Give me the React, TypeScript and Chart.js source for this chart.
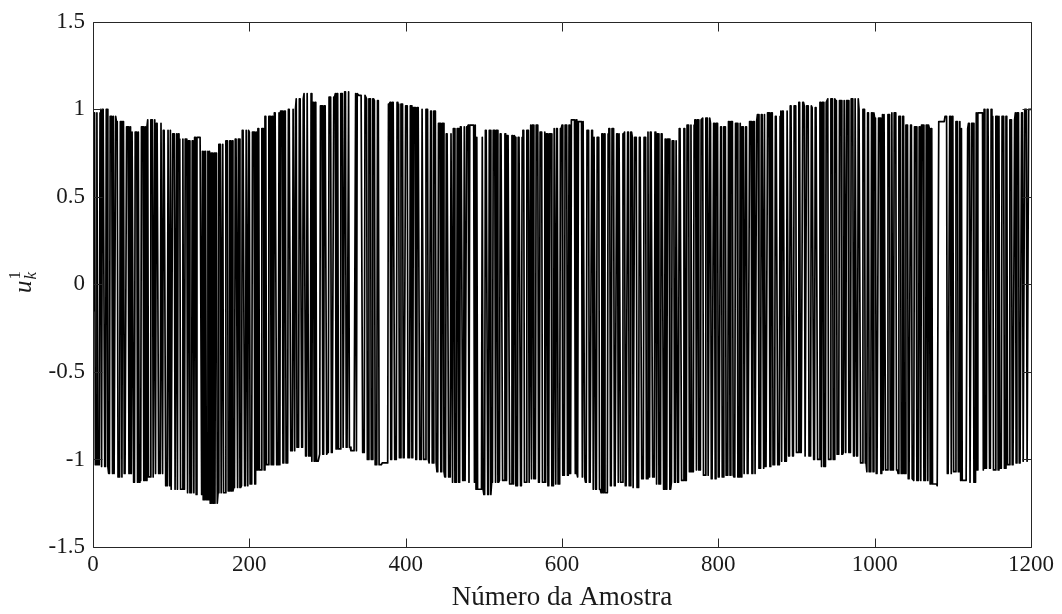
import React, { useEffect, useRef } from 'react';
import { Chart, registerables } from 'chart.js';

Chart.register(...registerables);

// ---- data ----
const xTicks = [0, 200, 400, 600, 800, 1000, 1200];
const yTicks = [-1.5, -1, -0.5, 0, 0.5, 1, 1.5];
const xTitle = 'Número da Amostra';

const firstValue = -0.15;

// level reached when the input is "high", one value per block of 10 samples
const upperLevel = [
  0.98, 1.0, 0.96, 0.93, 0.9, 0.87, 0.9, 0.94, 0.92, 0.88,
  0.86, 0.83, 0.82, 0.84, 0.76, 0.75, 0.8, 0.82, 0.83, 0.88,
  0.87, 0.89, 0.96, 0.98, 0.99, 1.0, 1.06, 1.09, 1.04, 1.02,
  1.07, 1.09, 1.1, 1.09, 1.08, 1.06, 1.05, 1.03, 1.04, 1.03,
  1.02, 1.01, 1.0, 0.99, 0.92, 0.86, 0.89, 0.9, 0.91, 0.84,
  0.88, 0.88, 0.86, 0.85, 0.84, 0.88, 0.91, 0.87, 0.86, 0.89,
  0.91, 0.94, 0.93, 0.88, 0.84, 0.86, 0.89, 0.86, 0.87, 0.84,
  0.84, 0.87, 0.86, 0.83, 0.82, 0.89, 0.91, 0.94, 0.95, 0.92,
  0.9, 0.93, 0.92, 0.9, 0.93, 0.97, 0.98, 0.96, 0.99, 1.02,
  1.04, 1.02, 1.01, 1.04, 1.06, 1.05, 1.05, 1.06, 1.0, 0.98,
  0.95, 0.97, 0.98, 0.96, 0.91, 0.9, 0.91, 0.89, 0.93, 0.96,
  0.93, 0.89, 0.92, 0.98, 1.0, 0.96, 0.96, 0.94, 0.98, 1.0,
  1.0,
];

// level reached when the input is "low", one value per block of 10 samples
const lowerLevel = [
  -1.03, -1.04, -1.08, -1.1, -1.08, -1.13, -1.12, -1.1, -1.08, -1.15,
  -1.17, -1.17, -1.19, -1.2, -1.23, -1.25, -1.19, -1.18, -1.16, -1.15,
  -1.14, -1.06, -1.03, -1.03, -1.02, -0.95, -0.93, -0.98, -1.01, -0.97,
  -0.96, -0.94, -0.93, -0.95, -0.96, -1.0, -1.03, -1.02, -1.0, -0.99,
  -0.99, -1.0, -1.0, -1.02, -1.07, -1.1, -1.13, -1.12, -1.13, -1.17,
  -1.2, -1.13, -1.12, -1.14, -1.15, -1.13, -1.11, -1.13, -1.15, -1.14,
  -1.09, -1.08, -1.1, -1.13, -1.17, -1.19, -1.15, -1.13, -1.15, -1.16,
  -1.11, -1.1, -1.14, -1.17, -1.13, -1.12, -1.07, -1.06, -1.09, -1.11,
  -1.1, -1.09, -1.1, -1.08, -1.08, -1.05, -1.04, -1.03, -1.01, -0.98,
  -0.96, -0.98, -1.0, -1.04, -1.0, -0.97, -0.96, -0.98, -1.02, -1.07,
  -1.08, -1.06, -1.06, -1.08, -1.11, -1.12, -1.12, -1.14, -1.15, -1.08,
  -1.07, -1.12, -1.13, -1.06, -1.05, -1.06, -1.05, -1.03, -1.02, -1.01,
  -1.01,
];

// high (1) / low (0) state of each sample, 50 samples per row
const switchPattern = [
  '1110010001 1011100110 0011101001 1100011011 0001110010',
  '1100111010 0011100101 1000111001 0111000110 1110001101',
  '0011100101 1100010011 1011000110 1101111110 1010100101',
  '0101010110 0111001000 1110011010 0011101100 0111001101',
  '1000111001 0110001110 1100011101 0011100010 1110011000',
  '1110001101 1000111001 1100110001 0110110000 0111001110',
  '0011100011 1011000111 0011000100 0000001011 1111100011',
  '1001110011 1000110000 0000000011 1001110001 1100111000',
  '1110001100 1110011100 0110001110 0011001110 0011100110',
  '0011100011 0110001100 1110010011 1011111101 0100000010',
  '0011100110 0011101100 0111000110 1110001101 1000111001',
  '1100011100 1011000111 0011100010 1100111000 1101100011',
  '1000111001 0011111010 0111110110 0011100011 0110011100',
  '0110100001 1100111000 1101100011 1000110011 1001110001',
  '1100011100 1001110001 1011000111 0010011100 0111001100',
  '1110001100 1110010001 1101100011 1000111001 1000110111',
  '0001100111 0001101110 0011100010 1110011000 1110011001',
  '1100011101 0001110011 0001110001 1011100011 0011100111',
  '0001100011 1001110001 1100111000 1101100011 1000111001',
  '1100011100 0110111000 1110011001 1100011100 0110001101',
  '1100011100 1011000111 0010011100 0111001100 1110001100',
  '0111000110 1110001101 1011000000 0011111111 1110001101',
  '1000111001 0100000001 1100111000 1011111110 1000111001',
  '1100011101 0001110011 0001110001 1011100011 0011100111',
  '1',
];

const FONT = '"Liberation Serif", "DejaVu Serif", serif';
const TEXT = '#1a1a1a';
const AXIS = '#262626';

function buildPoints() {
  const bits = switchPattern.join('').replace(/\s/g, '');
  const pts: { x: number; y: number }[] = [];
  for (let k = 0; k < bits.length; k++) {
    const b = Math.floor(k / 10);
    const v = bits[k] === '1' ? upperLevel[b] : lowerLevel[b];
    pts.push({ x: k, y: k === 0 ? firstValue : v });
  }
  return pts;
}

const framePlugin = {
  id: 'matlabFrame',
  afterDatasetsDraw(chart: any) {
    const { ctx, chartArea: a, scales } = chart;
    const x = scales.x;
    const y = scales.y;
    ctx.save();
    ctx.strokeStyle = AXIS;
    ctx.lineWidth = 1;
    const L = Math.round(a.left) + 0.5;
    const R = Math.round(a.right) + 0.5;
    const T = Math.round(a.top) + 0.5;
    const B = Math.round(a.bottom) + 0.5;
    const tl = 9;
    ctx.beginPath();
    ctx.rect(L, T, R - L, B - T);
    for (const v of xTicks) {
      const px = Math.round(x.getPixelForValue(v)) + 0.5;
      ctx.moveTo(px, B);
      ctx.lineTo(px, B - tl);
      ctx.moveTo(px, T);
      ctx.lineTo(px, T + tl);
    }
    for (const v of yTicks) {
      const py = Math.round(y.getPixelForValue(v)) + 0.5;
      ctx.moveTo(L, py);
      ctx.lineTo(L + tl, py);
      ctx.moveTo(R, py);
      ctx.lineTo(R - tl, py);
    }
    ctx.stroke();

    // y-axis label u_k^1 (rotated)
    ctx.translate(25, y.getPixelForValue(0) - 2);
    ctx.rotate(-Math.PI / 2);
    ctx.fillStyle = TEXT;
    ctx.textBaseline = 'alphabetic';
    ctx.textAlign = 'left';
    ctx.font = 'italic 25px ' + FONT;
    const wu = ctx.measureText('u').width;
    ctx.font = 'italic 17px ' + FONT;
    const wk = ctx.measureText('k').width;
    const total = wu + 1 + wk;
    const x0 = -total / 2;
    ctx.font = 'italic 25px ' + FONT;
    ctx.fillText('u', x0, 6);
    ctx.font = '17px ' + FONT;
    ctx.fillText('1', x0 + wu + 1, -5);
    ctx.font = 'italic 17px ' + FONT;
    ctx.fillText('k', x0 + wu + 1, 11);
    ctx.restore();
  },
};

export default function App() {
  const ref = useRef<HTMLCanvasElement | null>(null);

  useEffect(() => {
    if (!ref.current) return;
    const chart = new Chart(ref.current, {
      type: 'line',
      data: {
        datasets: [
          {
            data: buildPoints(),
            borderColor: '#000000',
            borderWidth: 1.7,
            borderJoinStyle: 'round',
            pointRadius: 0,
            tension: 0,
            fill: false,
          },
        ],
      },
      options: {
        animation: false,
        responsive: false,
        events: [],
        layout: { padding: { top: 18, right: 31, left: 0, bottom: 0 } },
        plugins: {
          legend: { display: false },
          tooltip: { enabled: false },
          title: { display: false },
        },
        scales: {
          x: {
            type: 'linear',
            min: 0,
            max: 1200,
            afterBuildTicks: (s: any) => {
              s.ticks = xTicks.map((v) => ({ value: v }));
            },
            ticks: {
              font: { family: FONT, size: 23 },
              color: TEXT,
              padding: 4,
              maxRotation: 0,
              autoSkip: false,
              callback: (v: any) => String(v),
            },
            grid: { display: false, drawTicks: false },
            border: { display: false },
            title: {
              display: true,
              text: xTitle,
              font: { family: FONT, size: 27 },
              color: TEXT,
              padding: { top: 0, bottom: 0 },
            },
            afterFit: (s: any) => {
              s.height = 67;
            },
          },
          y: {
            type: 'linear',
            min: -1.5,
            max: 1.5,
            afterBuildTicks: (s: any) => {
              s.ticks = yTicks.map((v) => ({ value: v }));
            },
            ticks: {
              font: { family: FONT, size: 23 },
              color: TEXT,
              padding: 8,
              autoSkip: false,
              callback: (v: any) => String(v),
            },
            grid: { display: false, drawTicks: false },
            border: { display: false },
            afterFit: (s: any) => {
              s.width = 93;
            },
          },
        },
      },
      plugins: [framePlugin],
    });
    return () => chart.destroy();
  }, []);

  return (
    <div style={{ position: 'fixed', left: 0, top: 0, width: 1062, height: 614, background: '#fff' }}>
      <canvas ref={ref} width={1062} height={614} style={{ display: 'block' }} />
    </div>
  );
}
